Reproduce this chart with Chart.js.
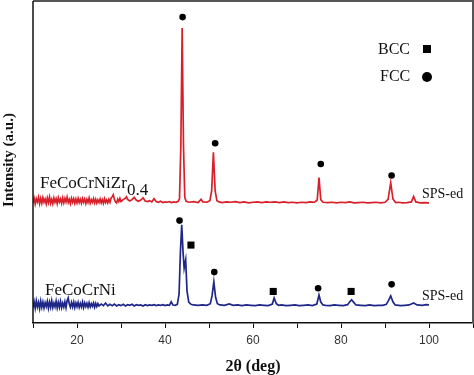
<!DOCTYPE html>
<html>
<head>
<meta charset="utf-8">
<script src="https://cdn.jsdelivr.net/npm/chart.js@4"></script>
<style>
  html, body { margin: 0; padding: 0; background: #fff; }
  #wrap { width: 474px; height: 375px; }
</style>
</head>
<body>
<div id="wrap"><canvas id="xrd"></canvas></div>
<script>
// 2theta positions and intensities (arbitrary units, offset traces)
const zrAngle = [10,10.25,10.5,10.75,11,11.25,11.5,11.75,12,12.25,12.5,12.75,13,13.25,13.5,13.75,14,14.25,14.5,14.75,15,15.25,15.5,15.75,16,16.25,16.5,16.75,17,17.25,17.5,17.75,18,18.25,18.5,18.75,19,19.25,19.5,19.75,20,20.25,20.5,20.75,21,21.25,21.5,21.75,22,22.25,22.5,22.75,23,23.25,23.5,23.75,24,24.25,24.5,24.75,25,25.25,25.5,25.75,26,26.25,26.5,26.75,27,27.25,27.5,27.75,28,28.25,28.5,28.75,29,29.25,29.5,29.75,30,30.5,31,31.25,31.5,32,32.5,33,33.5,34,34.5,35,35.5,36,36.5,37,37.5,38,38.5,39,39.5,40,40.5,41,41.5,42,42.5,43,43.3,43.6,43.9,44.2,44.5,44.8,45.5,46.5,47.5,48.2,48.6,49.5,50.2,50.6,51.0,51.4,51.8,52.3,53,54,55,56,57,58,59,60,61,62,63,64,65,66,67,68,69,70,71,72,73,74,74.6,75.0,75.4,75.9,77,78,79,80,81,82,83,84,85,86,87,88,89,90,90.7,91.3,91.8,92.4,93,94,95,96,96.5,97,98,99,100];
const zrIntensity = [37.3,38.8,37.0,38.6,37.6,39.0,37.1,38.7,37.2,38.9,37.5,38.5,37.0,38.8,37.4,39.1,37.2,38.4,37.0,38.8,37.5,38.6,37.1,38.9,37.6,38.5,37.2,38.8,37.3,38.7,37.6,39.1,37.4,38.4,37.1,38.7,37.5,38.6,37.2,38.5,37.3,38.7,37.4,38.4,37.2,38.6,37.5,38.5,37.1,38.4,37.4,38.8,37.2,38.3,37.5,38.6,37.3,38.4,37.2,38.2,37.4,38.5,37.3,38.3,37.2,38.6,37.4,38.2,37.3,38.4,37.5,38.8,39.2,39.8,38.4,37.6,37.3,38.4,37.7,38.7,37.7,38.3,38.8,39.2,38.4,37.9,38.3,39.0,38.1,37.8,38.2,38.9,37.9,37.7,38.0,37.6,38.6,37.7,37.5,37.8,37.4,37.6,37.5,37.7,37.4,37.6,37.5,37.8,38.6,55,91.6,55,39,37.8,37.5,37.7,37.4,38.4,37.6,37.5,38.0,41,53,41,38,37.6,37.4,37.6,37.5,37.7,37.4,37.6,37.3,37.5,37.6,37.4,37.6,37.5,37.6,37.4,37.6,37.4,37.5,37.3,37.5,37.4,37.6,37.5,38.2,45.2,38.3,37.5,37.4,37.5,37.3,37.5,37.4,37.6,37.3,37.4,37.5,37.3,37.4,37.5,37.3,37.5,38.4,43.6,38.5,37.4,37.5,37.3,37.4,37.6,39.3,37.6,37.3,37.4,37.3];

const niAngle = [10,10.25,10.5,10.75,11,11.25,11.5,11.75,12,12.25,12.5,12.75,13,13.25,13.5,13.75,14,14.25,14.5,14.75,15,15.25,15.5,15.75,16,16.25,16.5,16.75,17,17.25,17.5,17.75,18,18.25,18.5,18.75,19,19.25,19.5,19.75,20,20.25,20.5,20.75,21,21.25,21.5,21.75,22,22.25,22.5,22.75,23,23.25,23.5,23.75,24,24.25,24.5,24.75,25,25.5,26,26.5,27,27.5,28,28.5,29,29.5,30,30.5,31,31.5,32,32.5,33,33.5,34,34.5,35,35.5,36,36.5,37,37.5,38,38.5,39,39.5,40,40.5,41,41.4,41.8,42.3,42.8,43.2,43.5,43.8,44.1,44.35,44.7,45.0,45.4,45.9,46.5,47.5,48.5,49.5,50.3,50.7,51.1,51.5,51.9,52.5,53.5,54.6,55.5,56.5,57.5,58.5,59.5,60.5,61.5,62.5,63.5,64.4,64.8,65.3,65.8,66.5,67.5,68.5,69.5,70.5,71.5,72.5,73.5,74.5,75.0,75.4,75.9,76.5,77.5,78.5,79.5,80.5,81.5,82.0,82.4,82.9,83.4,84.5,85.5,86.5,87.5,88.5,89.5,90.3,90.8,91.3,91.8,92.3,93.5,94.5,95.5,96.5,97.3,98.5,99.3,100];
const niIntensity = [4.8,6.6,4.6,6.9,5.0,6.4,4.5,6.8,4.9,6.5,4.7,6.3,5.1,6.7,4.6,6.5,4.9,6.9,4.8,6.2,5.0,6.8,4.7,6.4,4.9,6.7,4.8,6.2,5.0,6.6,4.8,6.9,7.8,5.9,4.9,6.4,5.0,6.5,4.8,6.2,5.1,6.4,4.9,6.1,5.0,6.5,4.8,6.2,5.1,6.1,4.9,6.3,5.0,6.0,5.2,6.2,4.9,6.1,5.1,6.0,5.3,5.9,5.4,6.2,5.3,5.8,5.4,5.9,5.3,5.7,5.4,5.8,5.3,5.7,5.5,5.8,5.3,5.7,5.5,5.6,5.3,5.7,5.4,5.6,5.5,5.7,5.4,5.6,5.5,5.7,5.4,5.6,5.5,6.6,5.6,5.5,5.8,9,22,30.5,22,17,19.6,10,6.5,5.8,5.6,5.5,5.6,5.5,6.0,8.5,12.8,8.0,6.0,5.6,5.5,5.9,5.5,5.6,5.4,5.6,5.5,5.4,5.6,5.5,5.4,5.9,7.8,6.0,5.5,5.6,5.4,5.5,5.6,5.4,5.5,5.6,5.4,5.9,8.7,6.5,5.6,5.5,5.4,5.6,5.5,5.4,5.7,6.6,7.2,6.4,5.6,5.5,5.4,5.6,5.4,5.5,5.5,5.8,7.0,8.4,6.6,5.6,5.4,5.5,5.6,6.2,5.6,5.5,5.7,5.6];

// phase markers
const fccAngle = [44.0, 51.4, 75.4, 91.5, 43.3, 51.2, 74.8, 91.5];
const fccLevel = [95.0, 55.8, 49.4, 45.8, 31.8, 15.8, 10.8, 12.0];
const bccAngle = [45.9, 64.6, 82.3];
const bccLevel = [24.2, 9.8, 9.8];

const xTickLabels = [20, 40, 60, 80, 100];

const pts = (xs, ys) => xs.map((x, i) => ({ x: x, y: ys[i] }));

const serif = '"Liberation Serif", "DejaVu Serif", serif';

const decor = {
    id: 'decor',
    afterDraw(chart) {
        const ctx = chart.ctx;
        const a = chart.chartArea;
        ctx.save();
        // frame
        ctx.strokeStyle = '#555';
        ctx.lineWidth = 2;
        ctx.beginPath();
        ctx.moveTo(a.left, a.top);
        ctx.lineTo(a.right, a.top);
        ctx.lineTo(a.right, a.bottom);
        ctx.stroke();
        ctx.strokeStyle = '#111';
        ctx.lineWidth = 1.5;
        ctx.beginPath();
        ctx.moveTo(a.left, a.top);
        ctx.lineTo(a.left, a.bottom);
        ctx.stroke();

        // y title
        ctx.fillStyle = '#111';
        ctx.font = 'bold 15px ' + serif;
        ctx.textAlign = 'center';
        ctx.textBaseline = 'middle';
        ctx.translate(9, 160);
        ctx.rotate(-Math.PI / 2);
        ctx.fillText('Intensity (a.u.)', 0, 0);
        ctx.setTransform(1, 0, 0, 1, 0, 0);

        // sample labels
        ctx.textAlign = 'left';
        ctx.font = '17px ' + serif;
        ctx.fillText('FeCoCrNiZr', 40, 184);
        const w = ctx.measureText('FeCoCrNiZr').width;
        ctx.fillText('0.4', 40 + w, 191);
        ctx.fillText('FeCoCrNi', 45, 291);
        ctx.font = '14px ' + serif;
        ctx.fillText('SPS-ed', 422, 194);
        ctx.fillText('SPS-ed', 422, 296);

        // legend
        ctx.font = '16px ' + serif;
        ctx.fillText('BCC', 378, 50);
        ctx.fillText('FCC', 380, 77);
        ctx.fillStyle = '#000';
        ctx.fillRect(423, 45, 8, 8);
        ctx.beginPath();
        ctx.arc(427, 77, 5, 0, Math.PI * 2);
        ctx.fill();
        ctx.restore();
    }
};

new Chart(document.getElementById('xrd'), {
    type: 'scatter',
    data: {
        datasets: [
            {
                label: 'FeCoCrNiZr0.4',
                data: pts(zrAngle, zrIntensity),
                showLine: true,
                borderColor: '#d8202b',
                borderWidth: 1.7,
                pointRadius: 0,
                tension: 0
            },
            {
                label: 'FeCoCrNi',
                data: pts(niAngle, niIntensity),
                showLine: true,
                borderColor: '#1e2787',
                borderWidth: 1.7,
                pointRadius: 0,
                tension: 0
            },
            {
                label: 'FCC',
                data: pts(fccAngle, fccLevel),
                pointStyle: 'circle',
                pointRadius: 3.3,
                backgroundColor: '#000',
                borderColor: '#000',
                borderWidth: 0
            },
            {
                label: 'BCC',
                data: pts(bccAngle, bccLevel),
                pointStyle: 'rect',
                pointRadius: 5,
                backgroundColor: '#000',
                borderColor: '#000',
                borderWidth: 0
            }
        ]
    },
    options: {
        responsive: true,
        maintainAspectRatio: false,
        animation: false,
        layout: { autoPadding: false, padding: { left: 33, right: 1, top: 1, bottom: 0 } },
        plugins: {
            legend: { display: false },
            tooltip: { enabled: false }
        },
        scales: {
            x: {
                type: 'linear',
                min: 10,
                max: 110,
                afterFit: s => { s.height = 52; s.paddingLeft = 0; s.paddingRight = 0; },
                grid: { drawOnChartArea: false, drawTicks: true, tickLength: 5, color: '#111' },
                border: { display: true, color: '#111', width: 1.5 },
                ticks: {
                    stepSize: 10,
                    padding: 5,
                    color: '#333',
                    font: { family: '"Liberation Sans", Arial, sans-serif', size: 12 },
                    maxRotation: 0,
                    autoSkip: false,
                    callback: v => xTickLabels.includes(v) ? String(v) : ''
                },
                title: {
                    display: true,
                    text: '2θ (deg)',
                    color: '#111',
                    font: { family: serif, size: 16, weight: 'bold', lineHeight: 1 },
                    padding: { top: 12, bottom: 0 }
                }
            },
            y: {
                display: false,
                min: 0,
                max: 100
            }
        }
    },
    plugins: [decor]
});
</script>
</body>
</html>
